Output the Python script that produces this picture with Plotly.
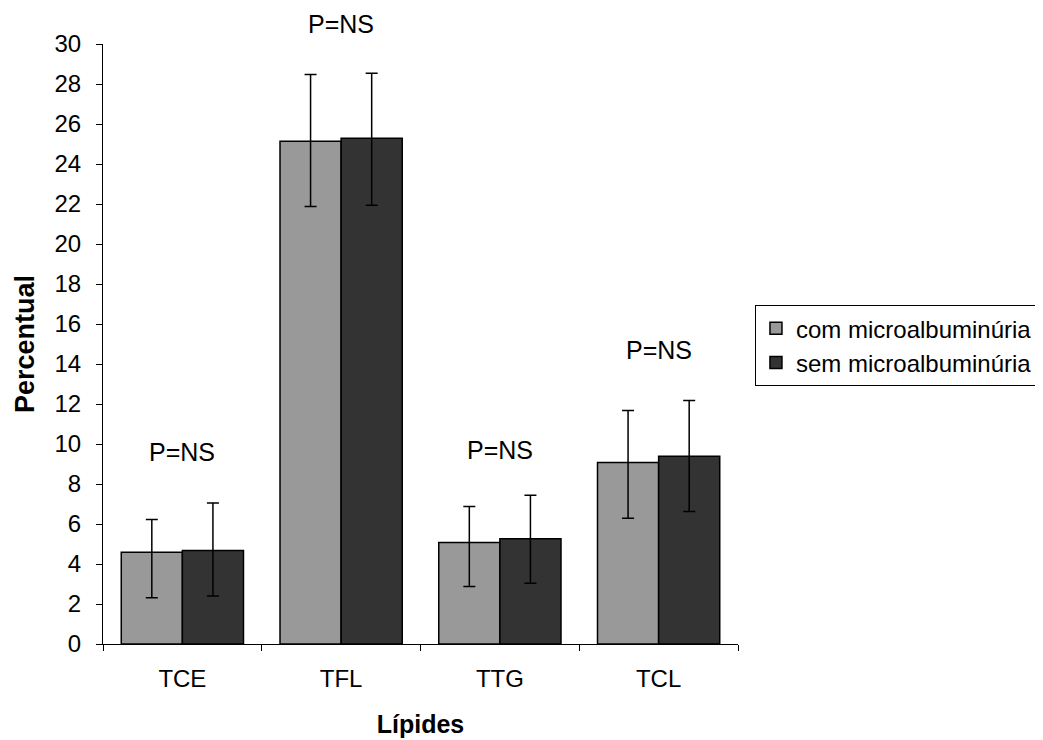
import plotly.graph_objects as go

categories = ["TCE", "TFL", "TTG", "TCL"]
com_values = [4.59, 25.14, 5.08, 9.08]
com_err_plus = [1.63, 3.33, 1.80, 2.60]
com_err_minus = [2.28, 3.26, 2.20, 2.79]
sem_values = [4.68, 25.29, 5.26, 9.39]
sem_err_plus = [2.37, 3.25, 2.18, 2.79]
sem_err_minus = [2.28, 3.35, 2.22, 2.77]
p_labels = ["P=NS", "P=NS", "P=NS", "P=NS"]
p_label_y = [9.6, 31.0, 9.7, 14.7]
y_ticks = list(range(0, 31, 2))
Y_MAX = 30

FONT = "Liberation Sans, Arial, sans-serif"

fig = go.Figure()
fig.add_trace(go.Bar(
    name="com microalbuminúria", x=categories, y=com_values,
    marker=dict(color="#999999", line=dict(color="#000000", width=1.5)),
    error_y=dict(type="data", symmetric=False, array=com_err_plus,
                 arrayminus=com_err_minus, color="#000000", thickness=1.5, width=6),
))
fig.add_trace(go.Bar(
    name="sem microalbuminúria", x=categories, y=sem_values,
    marker=dict(color="#333333", line=dict(color="#000000", width=1.5)),
    error_y=dict(type="data", symmetric=False, array=sem_err_plus,
                 arrayminus=sem_err_minus, color="#000000", thickness=1.5, width=6),
))

# y given in data units; converted to paper fraction so labels above the range still show
for c, t, yy in zip(categories, p_labels, p_label_y):
    fig.add_annotation(x=c, y=yy / Y_MAX, xref="x", yref="paper", text=t, showarrow=False,
                       xanchor="center", yanchor="middle",
                       font=dict(family=FONT, size=25, color="#000000"))

# page body has an 8px offset, so the figure is 8px smaller and margins adjusted
fig.update_layout(
    width=1035, height=732,
    margin=dict(l=95, r=305, t=36, b=96, autoexpand=False),
    paper_bgcolor="white", plot_bgcolor="white",
    barmode="group", bargap=0.23, bargroupgap=0,
    font=dict(family=FONT, size=24, color="#000000"),
    showlegend=True,
    legend=dict(xref="container", yref="container", x=0.7217, xanchor="left",
                y=0.594, yanchor="top",
                bordercolor="#000000", borderwidth=1,
                font=dict(family=FONT, size=24, color="#000000"),
                tracegroupgap=0, itemwidth=30),
    xaxis=dict(
        title=dict(text="<b>Lípides</b>", font=dict(family=FONT, size=25), standoff=24),
        showline=True, linecolor="#000000", linewidth=1, automargin=False,
        ticks="outside", ticklen=6, tickcolor="#000000", tickson="boundaries",
        tickfont=dict(family=FONT, size=24), showgrid=False, ticklabelstandoff=13,
    ),
    yaxis=dict(
        title=dict(text="<b>Percentual</b>", font=dict(family=FONT, size=27), standoff=12),
        range=[0, Y_MAX], tickvals=y_ticks, automargin=False,
        showline=True, linecolor="#000000", linewidth=1,
        ticks="outside", ticklen=6, tickcolor="#000000",
        tickfont=dict(family=FONT, size=24), showgrid=False, zeroline=False,
        ticklabelstandoff=10,
    ),
)

fig.write_html("out.html")
